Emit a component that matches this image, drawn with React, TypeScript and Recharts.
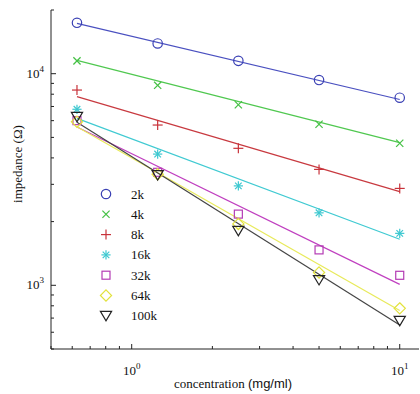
import React from 'react';
import { ComposedChart, XAxis, YAxis, Line, Scatter, Legend } from 'recharts';

// concentrations (mg/ml) where impedance was measured
const concentrations = [0.625, 1.25, 2.5, 5, 10];
// fitted lines run from the first to the last concentration
const fitX = [0.625, 10];

const seriesNames = ['2k', '4k', '8k', '16k', '32k', '64k', '100k'];
const markerTypes = ['circle', 'cross', 'plus', 'star', 'square', 'diamond', 'triangle'];
const markerColors = ['#3a40b4', '#44c044', '#c8323a', '#3cc8d0', '#b43cb4', '#e2e23c', '#222222'];
const lineColors = ['#4a50c0', '#50c850', '#c83a40', '#40cad2', '#c040c0', '#e8ea5a', '#444444'];

// measured impedance (ohm)
const imp2k = [17400, 13900, 11500, 9330, 7700];
const imp4k = [11500, 8810, 7130, 5770, 4690];
const imp8k = [8370, 5720, 4440, 3530, 2870];
const imp16k = [6790, 4170, 2950, 2200, 1760];
const imp32k = [6000, 3420, 2170, 1470, 1115];
const imp64k = [5930, 3350, 1950, 1150, 778];
const imp100k = [6260, 3320, 1810, 1060, 680];

// fitted power-law lines, value at start and end
const fit2k = [17300, 7550];
const fit4k = [11550, 4720];
const fit8k = [7790, 2770];
const fit16k = [6150, 1650];
const fit32k = [5600, 1010];
const fit64k = [5620, 760];
const fit100k = [5900, 650];

const measured = [imp2k, imp4k, imp8k, imp16k, imp32k, imp64k, imp100k];
const fitted = [fit2k, fit4k, fit8k, fit16k, fit32k, fit64k, fit100k];

const xTicks = [0.5, 0.6, 0.7, 0.8, 0.9, 1, 2, 3, 4, 5, 6, 7, 8, 9, 10];
const xMajor = [1, 10];
const yTicks = [500, 600, 700, 800, 900, 1000, 2000, 3000, 4000, 5000, 6000, 7000, 8000, 9000, 10000, 20000];
const yMajor = [1000, 10000];

const serif = '"Liberation Serif", "DejaVu Serif", serif';
const sans = '"Liberation Sans", Arial, sans-serif';
const axisColor = '#222';

const Marker = ({ type, cx, cy, color }: any) => {
  const sw = 1.2;
  switch (type) {
    case 'circle':
      return <circle cx={cx} cy={cy} r={4.7} fill="none" stroke={color} strokeWidth={sw} />;
    case 'cross':
      return (
        <g stroke={color} strokeWidth={sw}>
          <line x1={cx - 3.6} y1={cy - 3.6} x2={cx + 3.6} y2={cy + 3.6} />
          <line x1={cx - 3.6} y1={cy + 3.6} x2={cx + 3.6} y2={cy - 3.6} />
        </g>
      );
    case 'plus':
      return (
        <g stroke={color} strokeWidth={sw}>
          <line x1={cx - 5} y1={cy} x2={cx + 5} y2={cy} />
          <line x1={cx} y1={cy - 5} x2={cx} y2={cy + 5} />
        </g>
      );
    case 'star':
      return (
        <g stroke={color} strokeWidth={sw}>
          <line x1={cx - 4.6} y1={cy} x2={cx + 4.6} y2={cy} />
          <line x1={cx} y1={cy - 4.6} x2={cx} y2={cy + 4.6} />
          <line x1={cx - 3.3} y1={cy - 3.3} x2={cx + 3.3} y2={cy + 3.3} />
          <line x1={cx - 3.3} y1={cy + 3.3} x2={cx + 3.3} y2={cy - 3.3} />
        </g>
      );
    case 'square':
      return <rect x={cx - 4} y={cy - 4} width={8} height={8} fill="none" stroke={color} strokeWidth={sw} />;
    case 'diamond':
      return (
        <polygon
          points={`${cx},${cy - 5.6} ${cx + 5.6},${cy} ${cx},${cy + 5.6} ${cx - 5.6},${cy}`}
          fill="none"
          stroke={color}
          strokeWidth={sw}
        />
      );
    default:
      return (
        <polygon
          points={`${cx - 5.6},${cy - 4.4} ${cx + 5.6},${cy - 4.4} ${cx},${cy + 5}`}
          fill="none"
          stroke={color}
          strokeWidth={sw}
        />
      );
  }
};

const expOf = (v: number) => Math.round(Math.log10(v));

const BottomTick = ({ x, y, payload }: any) => {
  const major = xMajor.includes(payload.value);
  return (
    <g>
      <line x1={x} x2={x} y1={y} y2={y - (major ? 5 : 3)} stroke={axisColor} />
      {major && (
        <text x={x} y={y + 26} textAnchor="middle" fontFamily={serif} fontSize={13} fill="#111">
          10
          <tspan dy={-6} fontSize={9}>{expOf(payload.value)}</tspan>
        </text>
      )}
    </g>
  );
};

const TopTick = ({ x, y, payload }: any) => {
  const major = xMajor.includes(payload.value);
  return <line x1={x} x2={x} y1={y} y2={y + (major ? 5 : 3)} stroke={axisColor} />;
};

const LeftTick = ({ x, y, payload }: any) => {
  const major = yMajor.includes(payload.value);
  return (
    <g>
      <line x1={x} x2={x + (major ? 5 : 3)} y1={y} y2={y} stroke={axisColor} />
      {major && (
        <text x={x - 7} y={y + 4} textAnchor="end" fontFamily={serif} fontSize={13} fill="#111">
          10
          <tspan dy={-6} fontSize={9}>{expOf(payload.value)}</tspan>
        </text>
      )}
    </g>
  );
};

const RightTick = ({ x, y, payload }: any) => {
  const major = yMajor.includes(payload.value);
  return <line x1={x} x2={x - (major ? 5 : 3)} y1={y} y2={y} stroke={axisColor} />;
};

const XTitle = () => (
  <text x={233} y={388} textAnchor="middle" fontSize={13} fill="#111">
    <tspan fontFamily={serif}>concentration </tspan>
    <tspan fontFamily={sans}>(mg/ml)</tspan>
  </text>
);

const YTitle = () => (
  <text
    x={22}
    y={164}
    transform="rotate(-90 22 164)"
    textAnchor="middle"
    fontFamily={serif}
    fontSize={13}
    fill="#111"
  >
    impedance (Ω)
  </text>
);

const LegendBox = () => (
  <svg width={80} height={150} style={{ display: 'block' }}>
    {seriesNames.map((name, i) => (
      <g key={name}>
        <Marker type={markerTypes[i]} cx={10} cy={10 + i * 20.3} color={markerColors[i]} />
        <text x={35} y={10 + i * 20.3 + 4.5} fontFamily={serif} fontSize={13} fill="#111">
          {name}
        </text>
      </g>
    ))}
  </svg>
);

export default function App() {
  return (
    <div style={{ position: 'fixed', left: 0, top: 0, background: '#fff' }}>
      <ComposedChart width={420} height={394} margin={{ top: 10, right: 1, left: 0, bottom: 0 }}>
        <XAxis
          dataKey="x"
          type="number"
          scale="log"
          domain={[0.5, 11.8]}
          allowDataOverflow
          ticks={xTicks}
          interval={0}
          height={45}
          tickSize={0}
          tickMargin={0}
          tickLine={false}
          axisLine={{ stroke: axisColor }}
          tick={(p: any) => <BottomTick {...p} />}
          label={() => <XTitle />}
        />
        <XAxis
          xAxisId="top"
          orientation="top"
          type="number"
          scale="log"
          domain={[0.5, 11.8]}
          allowDataOverflow
          ticks={xTicks}
          interval={0}
          height={0}
          tickSize={0}
          tickMargin={0}
          tickLine={false}
          axisLine={{ stroke: axisColor }}
          tick={(p: any) => <TopTick {...p} />}
        />
        <YAxis
          dataKey="y"
          type="number"
          scale="log"
          domain={[500, 20000]}
          allowDataOverflow
          ticks={yTicks}
          interval={0}
          width={51}
          tickSize={0}
          tickMargin={0}
          tickLine={false}
          axisLine={{ stroke: axisColor }}
          tick={(p: any) => <LeftTick {...p} />}
          label={() => <YTitle />}
        />
        <YAxis
          yAxisId="right"
          orientation="right"
          type="number"
          scale="log"
          domain={[500, 20000]}
          allowDataOverflow
          ticks={yTicks}
          interval={0}
          width={0}
          tickSize={0}
          tickMargin={0}
          tickLine={false}
          axisLine={{ stroke: axisColor }}
          tick={(p: any) => <RightTick {...p} />}
        />
        <Legend
          layout="vertical"
          align="center"
          verticalAlign="middle"
          wrapperStyle={{ left: 96, top: 183.5, width: 80, height: 150 }}
          content={() => <LegendBox />}
        />
        {seriesNames.map((name, i) => (
          <Line
            key={'fit' + name}
            data={fitX.map((x, j) => ({ x, y: fitted[i][j] }))}
            dataKey="y"
            type="linear"
            stroke={lineColors[i]}
            strokeWidth={1.2}
            dot={false}
            activeDot={false}
            legendType="none"
            isAnimationActive={false}
          />
        ))}
        {seriesNames.map((name, i) => (
          <Scatter
            key={'pts' + name}
            name={name}
            data={concentrations.map((x, j) => ({ x, y: measured[i][j] }))}
            dataKey="y"
            isAnimationActive={false}
            shape={(p: any) => <Marker type={markerTypes[i]} cx={p.cx} cy={p.cy} color={markerColors[i]} />}
          />
        ))}
      </ComposedChart>
    </div>
  );
}
